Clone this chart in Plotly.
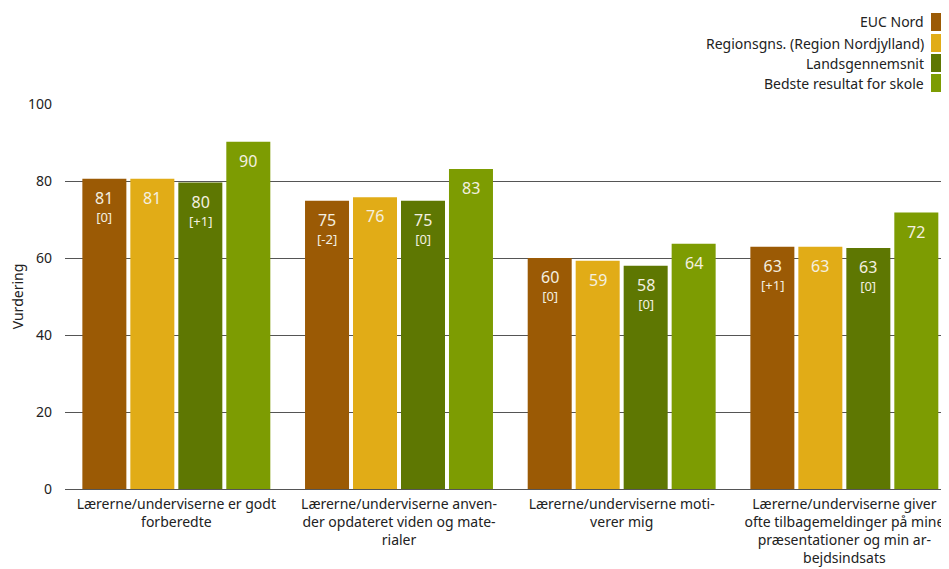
import plotly.graph_objects as go

categories = [
    "Lærerne/underviserne er godt<br>forberedte",
    "Lærerne/underviserne anven-<br>der opdateret viden og mate-<br>rialer",
    "Lærerne/underviserne moti-<br>verer mig",
    "Lærerne/underviserne giver<br>ofte tilbagemeldinger på mine<br>præsentationer og min ar-<br>bejdsindsats",
]
series_names = ["EUC Nord", "Regionsgns. (Region Nordjylland)", "Landsgennemsnit", "Bedste resultat for skole"]
euc = [80.6, 74.9, 60.0, 62.9]
region = [80.6, 75.8, 59.3, 62.9]
lands = [79.6, 74.9, 58.0, 62.6]
bedste = [90.2, 83.1, 63.7, 71.8]
euc_change = ["[0]", "[-2]", "[0]", "[+1]"]
lands_change = ["[+1]", "[0]", "[0]", "[0]"]
y_ticks = [0, 20, 40, 60, 80, 100]

colors = ["#9B5A05", "#E1AC17", "#5E7702", "#7D9C02"]
FONT = "Noto Sans"
TXT = "#F4F0E0"
DARK = "#222222"

# figure geometry (page body adds 8px offset)
W, H = 941, 561
ML, MT, MB = 57, 96, 80
PW, PH = W - ML, H - MT - MB

fig = go.Figure()
data = [euc, region, lands, bedste]
chg = [euc_change, None, lands_change, None]
for name, vals, c in zip(series_names, data, colors):
    fig.add_trace(go.Bar(
        x=categories, y=vals, name=name, marker=dict(color=c, line=dict(width=0)),
        hoverinfo="skip",
    ))

# value labels inside top of bars
slot = 48
for k, (vals, ch) in enumerate(zip(data, chg)):
    xs = (k - 1.5) * slot
    for i, v in enumerate(vals):
        if ch:
            txt = (f"<span style='font-size:16px'>{round(v):d}</span><br>"
                   f"<span style='font-size:13px'>{ch[i]}</span>")
        else:
            txt = f"<span style='font-size:16px'>{round(v):d}</span>"
        fig.add_annotation(x=categories[i], y=v, text=txt, showarrow=False,
                           xshift=xs, yshift=-7, yanchor="top", xanchor="center",
                           borderpad=0,
                           font=dict(family=FONT, size=14, color=TXT))

fig.update_layout(
    width=W, height=H,
    margin=dict(l=ML, r=0, t=MT, b=MB, pad=0, autoexpand=False),
    barmode="group", bargap=0.138, bargroupgap=0.083,
    plot_bgcolor="white", paper_bgcolor="white",
    showlegend=False,
    font=dict(family=FONT, size=14, color=DARK),
)
fig.update_xaxes(
    range=[-0.5, 3.47], showline=True, linecolor="#555555", linewidth=1,
    ticks="", tickfont=dict(family=FONT, size=14, color=DARK), showgrid=False,
    ticklabelstandoff=2, automargin=False,
)
fig.update_yaxes(
    range=[0, 100], tickvals=y_ticks, showgrid=True, gridcolor="#555555", gridwidth=1,
    zeroline=False, ticks="", ticklabelstandoff=12, automargin=False,
    tickfont=dict(family=FONT, size=14, color=DARK),
    title=dict(text="Vurdering", font=dict(family=FONT, size=14, color=DARK), standoff=2),
)

# custom legend (text right, swatch at right edge)
leg_y = [14, 35, 55, 75]
for name, c, yc in zip(series_names, colors, leg_y):
    fig.add_shape(type="rect", xref="paper", yref="paper",
                  x0=(923 - ML) / PW, x1=(934 - ML) / PW,
                  y0=(H - MB - (yc + 9)) / PH, y1=(H - MB - (yc - 9)) / PH,
                  fillcolor=c, line=dict(width=0))
    fig.add_annotation(xref="paper", yref="paper", x=(918 - ML) / PW,
                       y=(H - MB - yc) / PH, text=name, showarrow=False,
                       xanchor="right", yanchor="middle",
                       font=dict(family=FONT, size=14, color=DARK))

fig.write_html("out.html")
